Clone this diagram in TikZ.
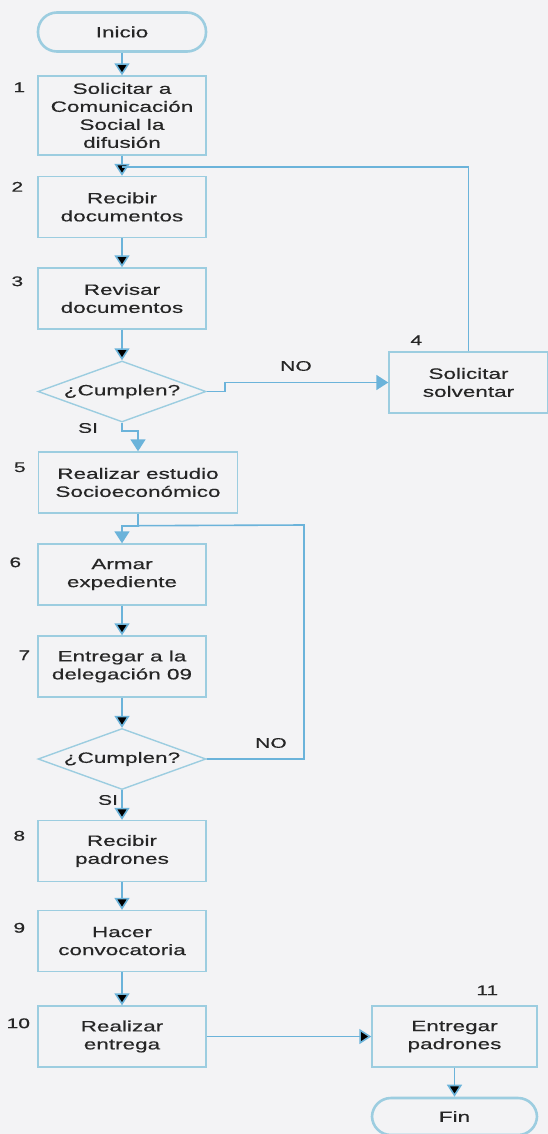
\documentclass[tikz,border=0pt]{standalone}
\usepackage{fontspec}
\setmainfont{Liberation Sans}[FakeStretch=1.5,FakeBold=0.4]
\usetikzlibrary{shapes.geometric,arrows.meta,positioning}
\definecolor{paper}{HTML}{F3F3F5}
\definecolor{boxblue}{HTML}{9CCDE0}
\definecolor{lineblue}{HTML}{6BB3DA}
\definecolor{ink}{HTML}{262626}
\tikzset{
  proc/.style={draw=boxblue, line width=1.4pt, minimum width=168pt, minimum height=61pt,
    align=center, text=ink, font=\fontsize{15}{18}\selectfont},
  term/.style={proc, rounded corners=19pt, minimum height=39pt, line width=2.6pt},
  cond/.style={diamond, draw=boxblue, line width=1.4pt, aspect=2.75, inner sep=0pt,
    minimum width=168pt, minimum height=61pt, text=ink, font=\fontsize{15}{18}\selectfont},
  num/.style={text=ink, font=\fontsize{14}{16}\selectfont},
  flow/.style={draw=lineblue, line width=1.6pt, -{Triangle[length=12pt,width=15pt]}},
  line/.style={draw=lineblue, line width=1.6pt},
}
\begin{document}
\begin{tikzpicture}[x=1pt,y=1pt]
  \useasboundingbox (0,0) rectangle (548,-1134);
  \fill[paper] (0,0) rectangle (548,-1134);

  \node[term] (inicio) at (122,-32) {Inicio};
  \node[proc, minimum height=79pt] (b1) [below of=inicio, node distance=83.5pt] {Solicitar a\\Comunicación\\Social la\\difusión};
  \node[proc] (b2) [below of=b1, node distance=91.5pt] {Recibir\\documentos};
  \node[proc] (b3) [below of=b2, node distance=91.5pt] {Revisar\\documentos};
  \node[cond] (d1) [below of=b3, node distance=93pt] {¿Cumplen?};
  \node[proc, minimum width=159pt] (b4) [right of=d1, node distance=346.5pt, yshift=9pt] {Solicitar\\solventar};
  \node[proc, minimum width=199pt] (b5) [below of=d1, node distance=91pt, xshift=16pt] {Realizar estudio\\Socioeconómico};
  \node[proc] (b6) [below of=b5, node distance=92pt, xshift=-16pt] {Armar\\expediente};
  \node[proc] (b7) [below of=b6, node distance=92pt] {Entregar a la\\delegación 09};
  \node[cond] (d2) [below of=b7, node distance=92.5pt] {¿Cumplen?};
  \node[proc] (b8) [below of=d2, node distance=92pt] {Recibir\\padrones};
  \node[proc] (b9) [below of=b8, node distance=90pt] {Hacer\\convocatoria};
  \node[proc] (b10) [below of=b9, node distance=95.5pt] {Realizar\\entrega};
  \node[proc, minimum width=165pt] (b11) [right of=b10, node distance=332.5pt] {Entregar\\padrones};
  \node[term, minimum width=165pt, minimum height=37pt] (fin) [below of=b11, node distance=80pt] {Fin};

  % step numbers
  \node[num] (n1) at ([shift={(-18pt,-12pt)}]b1.north west) {1};
  \node[num] (n2) at ([shift={(-20pt,-11pt)}]b2.north west) {2};
  \node[num] (n3) at ([shift={(-20pt,-14pt)}]b3.north west) {3};
  \node[num] (n4) at ([shift={(28pt,11pt)}]b4.north west) {4};
  \node[num] (n5) at ([shift={(-18pt,-16pt)}]b5.north west) {5};
  \node[num] (n6) at ([shift={(-22pt,-19pt)}]b6.north west) {6};
  \node[num] (n7) at ([shift={(-13pt,-20pt)}]b7.north west) {7};
  \node[num] (n8) at ([shift={(-18pt,-16pt)}]b8.north west) {8};
  \node[num] (n9) at ([shift={(-18pt,-18pt)}]b9.north west) {9};
  \node[num] (n10) at ([shift={(-19pt,-18pt)}]b10.north west) {10};
  \node[num] (n11) at ([shift={(116pt,15pt)}]b11.north west) {11};

  % answers
  \node[num] (no1) at (296,-366) {NO};
  \node[num] (si1) at (88,-428) {SI};
  \node[num] (no2) at (271,-743) {NO};
  \node[num] (si2) at (108,-800) {SI};

  \coordinate (back) at ([yshift=9pt]b2.north);
  \coordinate (join) at ([yshift=-12pt]b5.south);
  \coordinate (loop) at (304,-525);

  \path[flow] (inicio) edge (b1)
              (b1) edge (b2)
              (b2) edge (b3)
              (b3) edge (d1)
              (b6) edge (b7)
              (b7) edge (d2)
              (d2) edge (b8)
              (b8) edge (b9)
              (b9) edge (b10)
              (b10) edge (b11)
              (b11) edge (fin)
              ;
  \draw[flow] (d1.east) -- ++(18pt,0) |- (b4.west);
  \draw[line] (b4.north) |- (back);
  \draw[flow] (d1.south) -- ++(0,-8pt) -| (b5.north);
  \draw[flow] (b5.south) -- (join) -| (b6.north);
  \draw[line] (d2.east) -| (loop) -- (join);
\end{tikzpicture}
\end{document}
